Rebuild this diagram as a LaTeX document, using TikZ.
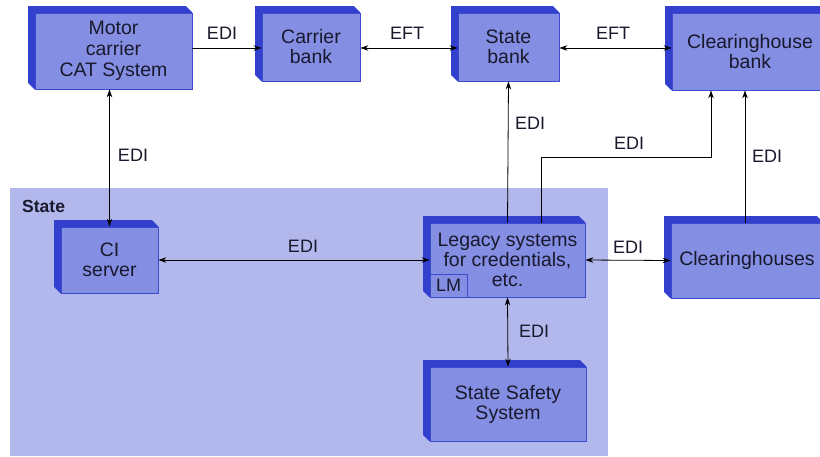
\documentclass[tikz,border=0pt]{standalone}
\usepackage{fontspec}
\setmainfont{Liberation Sans}
\usetikzlibrary{arrows.meta,backgrounds,calc}
\definecolor{face}{RGB}{132,142,226}
\definecolor{depth}{RGB}{50,64,205}
\definecolor{edge}{RGB}{60,75,205}
\definecolor{region}{RGB}{178,184,236}
\definecolor{ink}{RGB}{25,25,45}

\begin{document}
\begin{tikzpicture}[x=1pt,y=-1pt,
  sysbox/.style={draw=edge, line width=0.8pt, fill=face, text=ink, align=center,
    inner sep=0pt, font=\fontsize{19.5}{20}\selectfont},
  tip/.tip={Stealth[length=8pt,width=5.5pt]},
  link/.style={line width=0.8pt, -tip},
  both/.style={line width=0.8pt, tip-tip},
  lbl/.style={font=\fontsize{18}{20}\selectfont, text=ink, inner sep=0pt}]

\useasboundingbox (0,0) rectangle (820,456);
\clip (0,0) rectangle (820,456);

% systems (front faces)
\node[sysbox, minimum width=157pt, minimum height=76pt, font=\fontsize{19.5}{21}\selectfont] (motor) at (113.5,51) {Motor\\carrier\\CAT System};
\node[sysbox, minimum width=98pt, minimum height=68pt] (carrier) at (311,47) {Carrier\\bank};
\node[sysbox, minimum width=101pt, minimum height=68pt] (sbank) at (508.5,47) {State\\bank};
\node[sysbox, minimum width=156pt, minimum height=77pt] (chbank) at (750,51.5) {Clearinghouse\\bank};
\node[sysbox, minimum width=97pt, minimum height=66pt] (ci) at (109.5,260) {CI\\server};
\node[sysbox, minimum width=155pt, minimum height=74pt] (legacy) at (507.5,260) {Legacy systems\\for credentials,\\etc.};
\node[draw=edge, line width=0.8pt, text=ink, inner sep=0pt, minimum width=37pt, minimum height=23pt,
  anchor=south west, font=\fontsize{18}{20}\selectfont] (lm) at (legacy.south west) {LM};
\node[sysbox, minimum width=156pt, minimum height=74pt] (safety) at (508,404) {State Safety\\System};
\node[sysbox, minimum width=152pt, minimum height=75pt] (chouses) at (747,260.5) {Clearinghouses};

\begin{scope}[on background layer]
  % state region
  \fill[region] (10,188) rectangle (608,456);
  % extruded depth of every system box
  \foreach \n in {motor,carrier,sbank,chbank,ci,legacy,safety,chouses}
    \fill[depth] (\n.south west) -- ++(-6.5,-6.5) -- ($(\n.north west)+(-6.5,-6.5)$)
      -- ($(\n.north east)+(-6.5,-6.5)$) -- (\n.north east) -- cycle;
\end{scope}

\node[font=\bfseries\fontsize{17.5}{20}\selectfont, text=ink, anchor=west, inner sep=0pt] (statelbl) at (22,206) {State};

% connectors
\draw[link] (motor.east |- 0,48) -- (carrier.west |- 0,48);
\draw[both] (carrier.east |- 0,48) -- (sbank.west |- 0,48);
\draw[both] (sbank.east |- 0,48) -- (chbank.west |- 0,48);
\draw[both] (ci.north) -- (ci.north |- motor.south);
\draw[both] (ci.east) -- (legacy.west);
\draw[both] (legacy.east) -- (chouses.west);
\draw[link] (legacy.north) -- (sbank.south);
\draw[link] (legacy.north -| 541,0) -- (541,157) -- (711,157) -- (chbank.south -| 711,0);
\draw[link] (chouses.north -| 745,0) -- (chbank.south -| 745,0);
\draw[both] (legacy.south) -- (safety.north);

% connector labels
\node[lbl] (l1) at (222,33) {EDI};
\node[lbl] (l2) at (407,33) {EFT};
\node[lbl] (l3) at (613,33) {EFT};
\node[lbl] (l4) at (133,155) {EDI};
\node[lbl] (l5) at (303,246) {EDI};
\node[lbl] (l6) at (530,123) {EDI};
\node[lbl] (l7) at (629,143) {EDI};
\node[lbl] (l8) at (767,156) {EDI};
\node[lbl] (l9) at (628,247) {EDI};
\node[lbl] (l10) at (534,331) {EDI};
\end{tikzpicture}
\end{document}
